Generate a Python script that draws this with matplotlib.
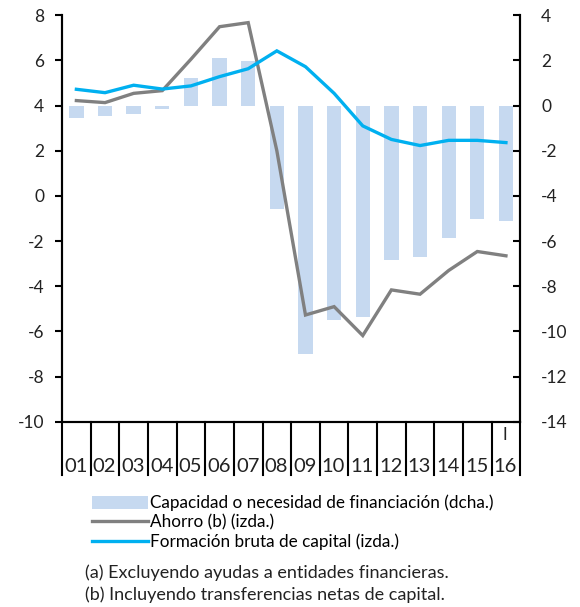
import numpy as np
import matplotlib
matplotlib.use('Agg')
from matplotlib import pyplot as plt
from matplotlib.patches import Patch
from matplotlib.lines import Line2D

years = ['01', '02', '03', '04', '05', '06', '07', '08',
         '09', '10', '11', '12', '13', '14', '15', '16']
# capacidad / necesidad de financiacion (eje dcha.)
capacidad = [-0.55, -0.45, -0.38, -0.15, 1.2, 2.1, 1.95, -4.6,
             -11.0, -9.5, -9.35, -6.85, -6.7, -5.85, -5.0, -5.1]
# ahorro (eje izda.)
ahorro = [4.22, 4.13, 4.54, 4.66, 6.05, 7.49, 7.67, 2.0,
          -5.27, -4.9, -6.18, -4.16, -4.35, -3.3, -2.46, -2.65]
# formacion bruta de capital (eje izda.)
fbc = [4.72, 4.57, 4.9, 4.73, 4.87, 5.28, 5.63, 6.42,
       5.72, 4.54, 3.1, 2.5, 2.23, 2.46, 2.46, 2.36]

left_ticks = [8, 6, 4, 2, 0, -2, -4, -6, -8, -10]
right_ticks = [4, 2, 0, -2, -4, -6, -8, -10, -12, -14]

bar_col = '#c6d9f0'
gray = '#808080'
blue = '#00b0f0'
txt = '#222222'

plt.rcParams['font.family'] = ['Lato', 'DejaVu Sans']
fig = plt.figure(figsize=(5.8, 6.07), dpi=100)
ax = fig.add_axes([0.107, 0.305, 0.79, 0.67])
ax2 = ax.twinx()
ax.set_zorder(2)
ax.patch.set_visible(False)

x = np.arange(len(years))
ax2.bar(x, capacidad, width=0.5, color=bar_col, zorder=1)
ax.plot(x, ahorro, color=gray, lw=2.4, solid_joinstyle='miter')
ax.plot(x, fbc, color=blue, lw=2.4, solid_joinstyle='miter')

ax.set_xlim(-0.5, len(years) - 0.5)
ax.set_ylim(-10, 8)
ax2.set_ylim(-14, 4)
ax.set_yticks(left_ticks)
ax2.set_yticks(right_ticks)
ax.set_yticklabels([str(t) for t in left_ticks], fontsize=12.5, color=txt)
ax2.set_yticklabels([str(t) for t in right_ticks], fontsize=12.5, color=txt)
ax.tick_params(axis='y', direction='out', length=5, width=1.5, pad=8)
ax2.tick_params(axis='y', direction='in', length=5, width=1.5, pad=15)
ax.set_xticks([])

for a in (ax, ax2):
    a.spines['top'].set_visible(False)
    for s in ('left', 'right', 'bottom'):
        a.spines[s].set_linewidth(1.5)
        a.spines[s].set_color('black')

# category separators and labels below the axis
trans = ax.get_xaxis_transform()
for i in range(len(years) + 1):
    ax.plot([i - 0.5, i - 0.5], [0, -0.13], transform=trans, color='black',
            lw=1.5, clip_on=False)
for i, y in enumerate(years):
    ax.text(i - 0.02, -0.11, y, transform=trans, ha='center', va='center',
            fontsize=14.5, color=txt)
ax.text(len(years) - 1 - 0.05, -0.032, 'I', transform=trans, ha='center',
        va='center', fontsize=12, color=txt)

handles = [Patch(facecolor=bar_col, edgecolor='none'),
           Line2D([], [], color=gray, lw=2.4),
           Line2D([], [], color=blue, lw=2.4)]
labels = ['Capacidad o necesidad de financiación (dcha.)',
          'Ahorro (b) (izda.)',
          'Formación bruta de capital (izda.)']
fig.legend(handles, labels, loc='upper left', bbox_to_anchor=(0.158, 0.185),
           frameon=False, fontsize=12.3, handlelength=3.3, handleheight=0.75,
           handletextpad=0.1, labelspacing=0.17, borderpad=0, borderaxespad=0)

fig.text(0.147, 0.057, '(a) Excluyendo ayudas a entidades financieras.',
         fontsize=13, color=txt, va='center')
fig.text(0.147, 0.021, '(b) Incluyendo transferencias netas de capital.',
         fontsize=13, color=txt, va='center')

fig.savefig('out.png', dpi=100)
